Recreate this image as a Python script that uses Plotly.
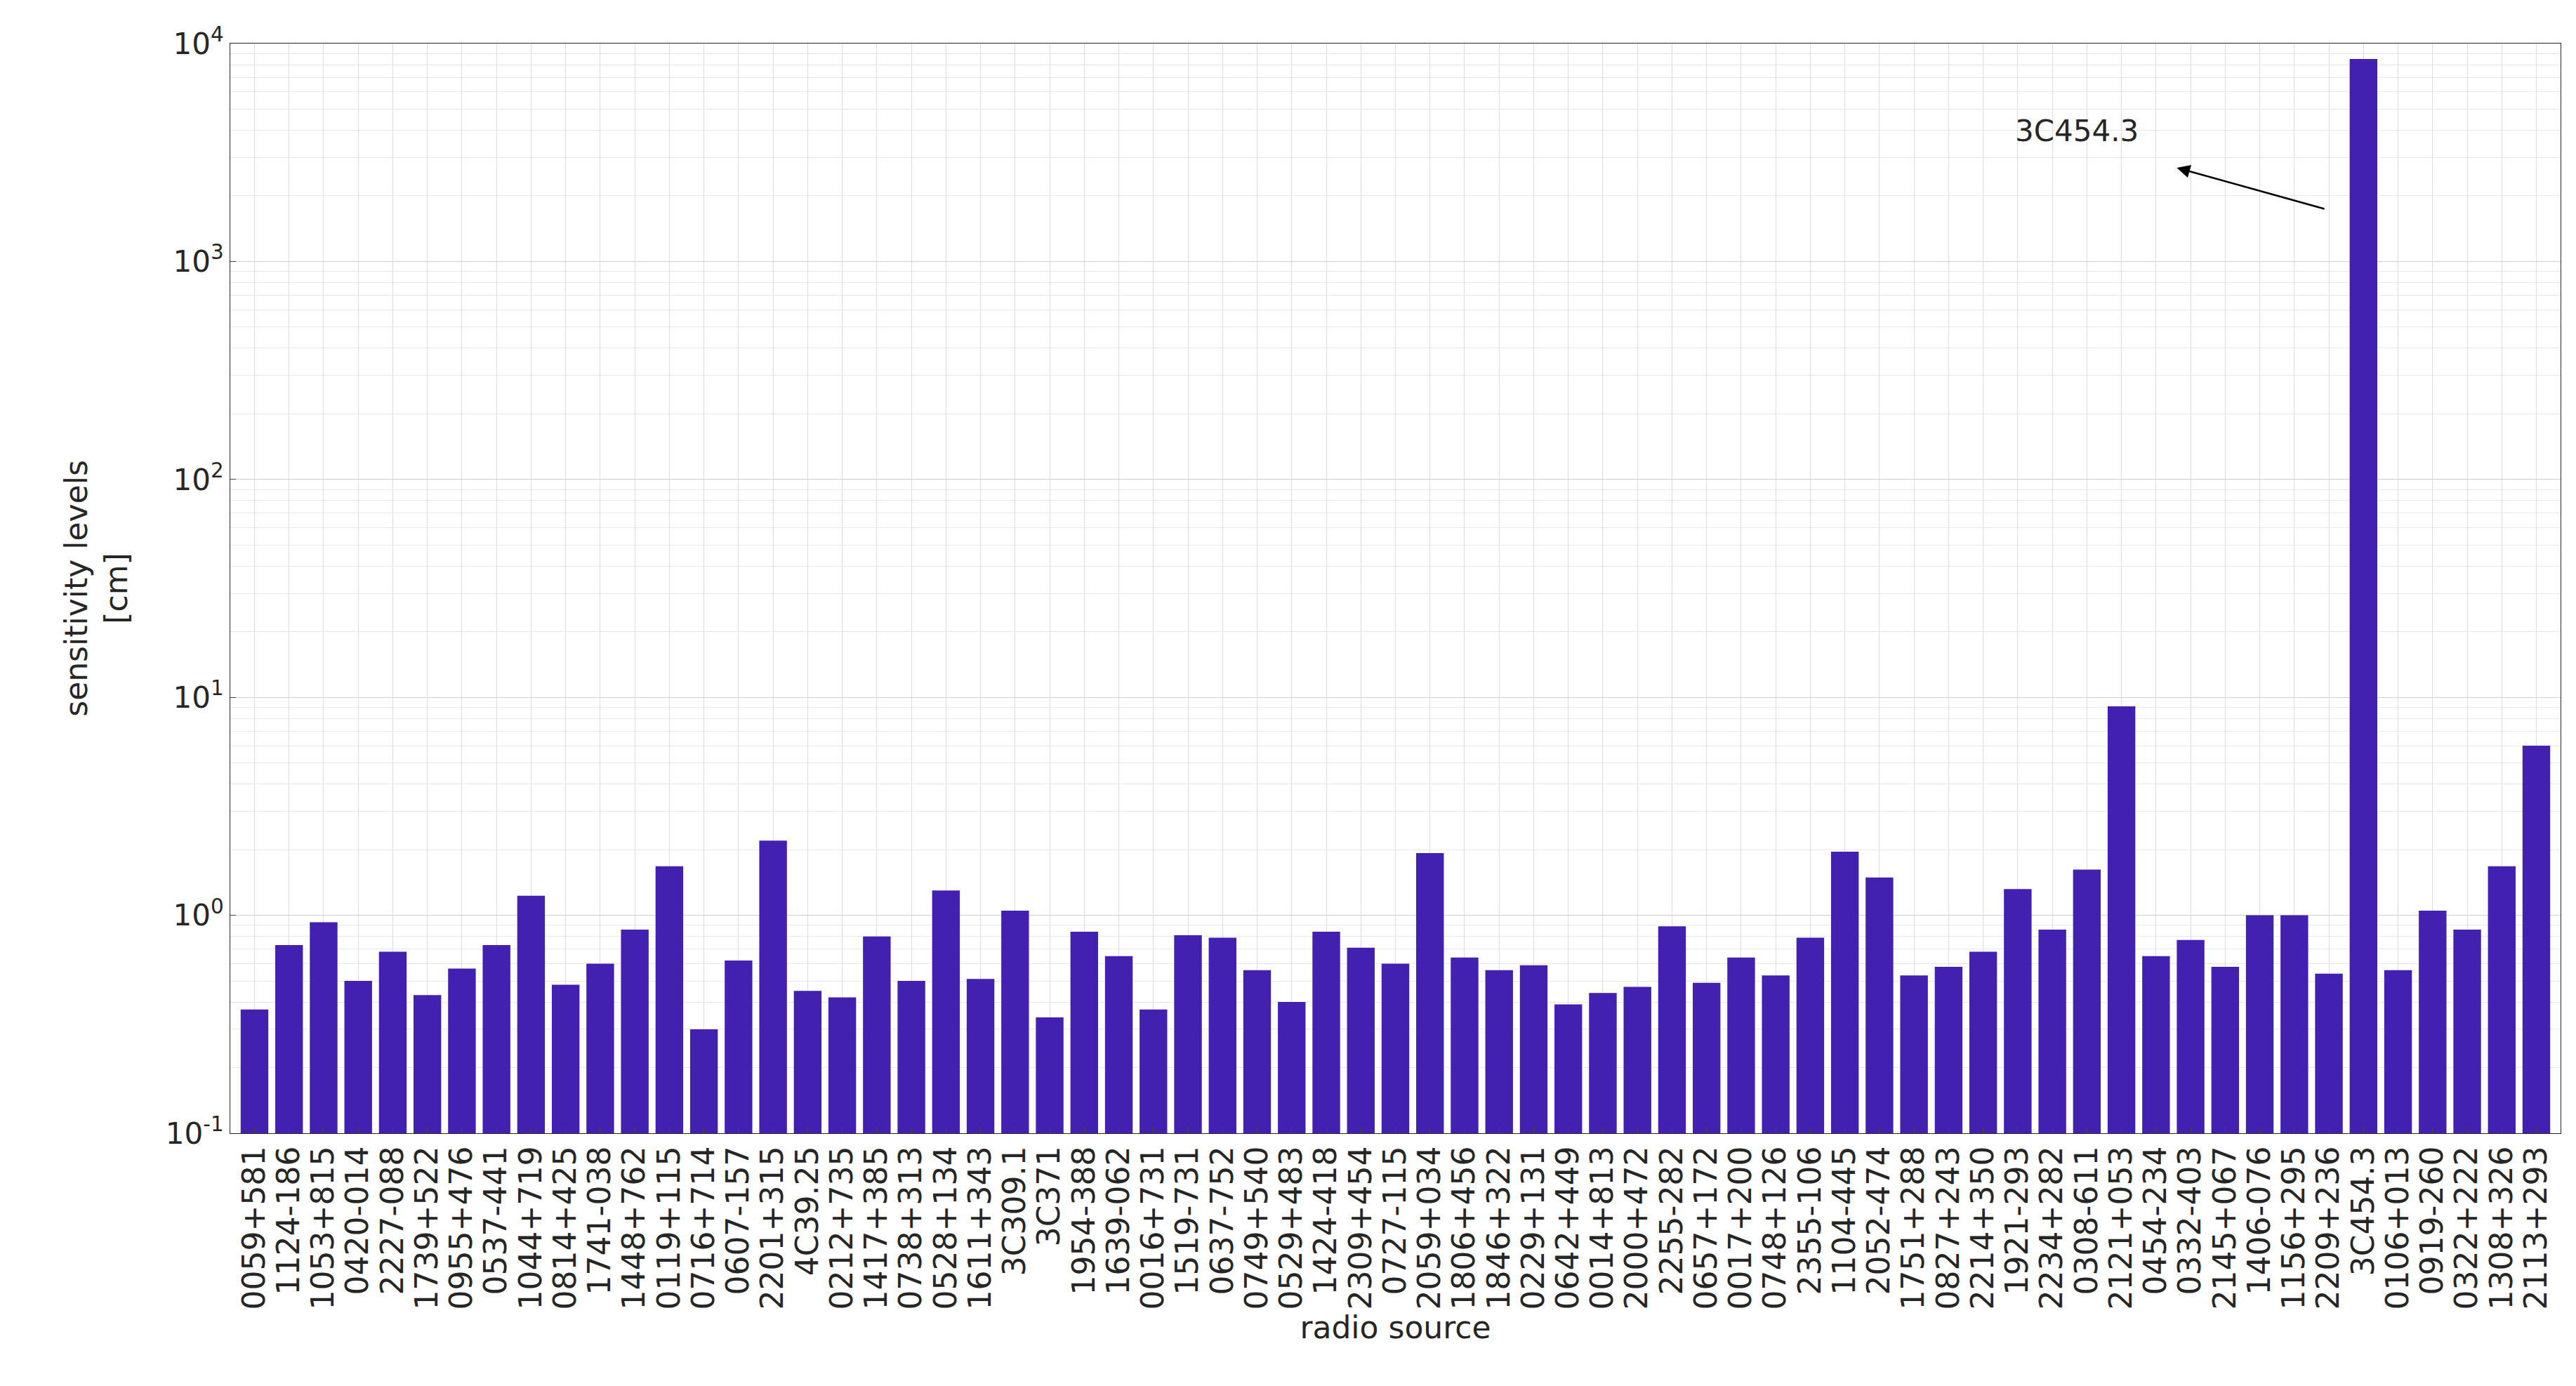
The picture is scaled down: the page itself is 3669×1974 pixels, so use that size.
import plotly.graph_objects as go

sources = ["0059+581","1124-186","1053+815","0420-014","2227-088","1739+522","0955+476","0537-441",
"1044+719","0814+425","1741-038","1448+762","0119+115","0716+714","0607-157","2201+315","4C39.25",
"0212+735","1417+385","0738+313","0528+134","1611+343","3C309.1","3C371","1954-388","1639-062",
"0016+731","1519-731","0637-752","0749+540","0529+483","1424-418","2309+454","0727-115","2059+034",
"1806+456","1846+322","0229+131","0642+449","0014+813","2000+472","2255-282","0657+172","0017+200",
"0748+126","2355-106","1104-445","2052-474","1751+288","0827+243","2214+350","1921-293","2234+282",
"0308-611","2121+053","0454-234","0332-403","2145+067","1406-076","1156+295","2209+236","3C454.3",
"0106+013","0919-260","0322+222","1308+326","2113+293"]
sensitivity = [0.37,0.73,0.93,0.50,0.68,0.43,0.57,0.73,1.23,0.48,0.60,0.86,1.68,0.30,0.62,2.2,0.45,
0.42,0.80,0.50,1.3,0.51,1.05,0.34,0.84,0.65,0.37,0.81,0.79,0.56,0.40,0.84,0.71,0.60,1.93,0.64,0.56,
0.59,0.39,0.44,0.47,0.89,0.49,0.64,0.53,0.79,1.96,1.49,0.53,0.58,0.68,1.32,0.86,1.62,9.1,0.65,0.77,
0.58,1.0,1.0,0.54,8500,0.56,1.05,0.86,1.68,6.0]

font = "DejaVu Sans"
fig = go.Figure(go.Bar(x=list(range(len(sources))), y=sensitivity, marker_color="#4220B0",
                       marker_line_width=0, width=0.8))
fig.update_layout(
    width=3669, height=1974, plot_bgcolor="white", paper_bgcolor="white",
    margin=dict(l=320, r=30, t=54, b=368), showlegend=False,
    font=dict(family=font, size=40, color="#262626"),
    xaxis=dict(tickmode="array", tickvals=list(range(len(sources))), ticktext=sources,
               tickangle=-90, range=[-0.7, len(sources)-0.3], showgrid=True, gridcolor="#dcdcdc",
               showline=True, linecolor="#262626", mirror=True, ticks="inside", ticklen=8,
               title=dict(text="radio source", font=dict(size=44), standoff=10), tickfont=dict(size=44)),
    yaxis=dict(type="log", range=[-1, 4], tickvals=[0.1, 1, 10, 100, 1000, 10000],
               ticktext=["10<sup>-1</sup>","10<sup>0</sup>","10<sup>1</sup>","10<sup>2</sup>","10<sup>3</sup>","10<sup>4</sup>"],
               showgrid=True, gridcolor="#cfcfcf", showline=True, linecolor="#262626", mirror=True,
               ticks="inside", ticklen=8, tickfont=dict(size=42),
               minor=dict(dtick="D1", showgrid=True, gridcolor="#e8e8e8", gridwidth=1),
               title=dict(text="sensitivity levels<br>[cm]", font=dict(size=44), standoff=40)),
)
fig.add_annotation(x=55.6, y=3.43, ax=59.9, ay=3.24, xref="x", yref="y", axref="x", ayref="y",
                   showarrow=True, arrowhead=2, arrowsize=1.5, arrowwidth=2.5, arrowcolor="black", text="")
fig.add_annotation(x=52.7, y=3.6, xref="x", yref="y", text="3C454.3", showarrow=False,
                   font=dict(size=42, color="#262626"))
fig.write_html("out.html")
